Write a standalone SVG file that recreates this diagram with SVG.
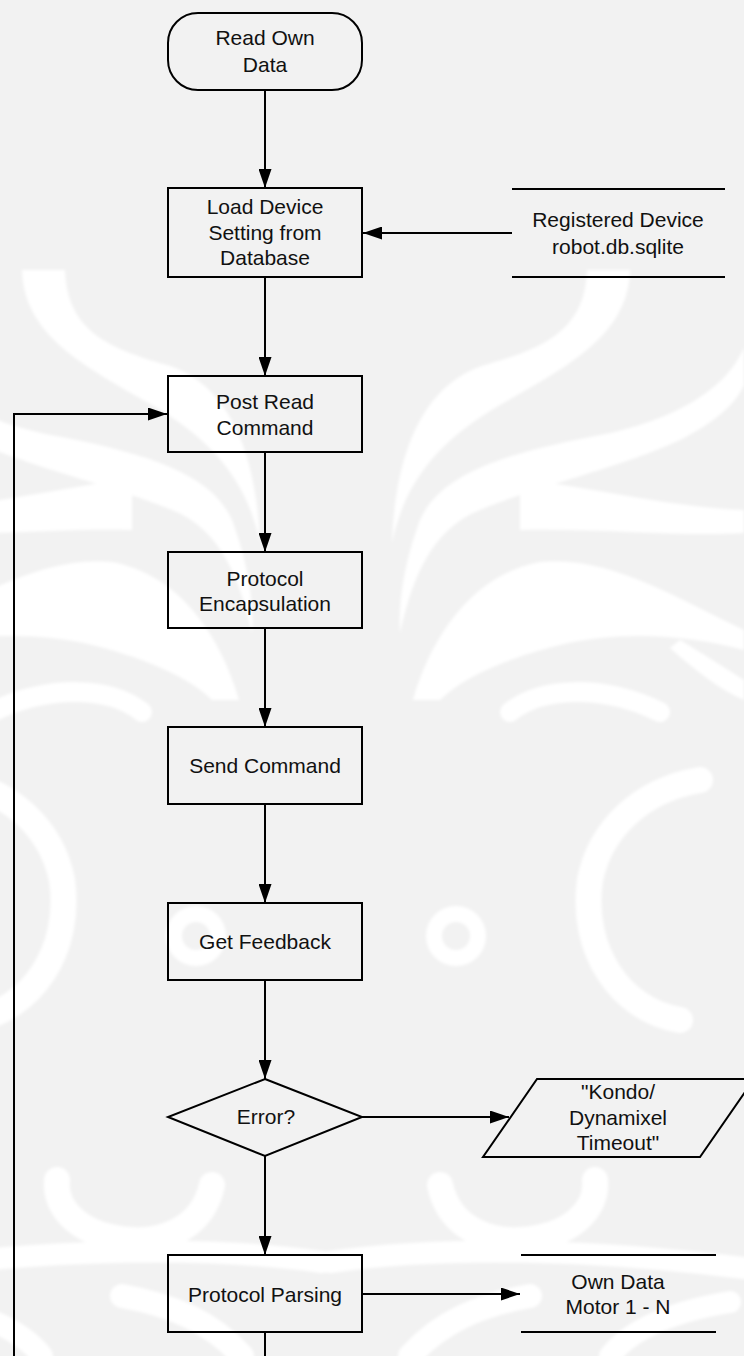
<svg xmlns="http://www.w3.org/2000/svg" width="744" height="1356" viewBox="0 0 744 1356">
  <defs>
    <style>
      .shape { fill: none; stroke: #000; stroke-width: 2; }
      .store { fill: none; stroke: #000; stroke-width: 2; }
      .wire { fill: none; stroke: #000; stroke-width: 2; }
      .label { font-family: "Liberation Sans", Arial, sans-serif; font-size: 21px; fill: #111; text-anchor: middle; }
      .wm { fill: #ffffff; }
      .wms { fill: none; stroke: #ffffff; stroke-linecap: round; }
    </style>
    <marker id="ah" viewBox="0 0 19 13" refX="19" refY="6.5" markerWidth="19" markerHeight="13" markerUnits="userSpaceOnUse" orient="auto">
      <path d="M0,0 L19,6.5 L0,13 z" fill="#000"/>
    </marker>
    <filter id="soft" x="-5%" y="-5%" width="110%" height="110%">
      <feGaussianBlur stdDeviation="1.6"/>
    </filter>
    <!-- one half of the background emblem; mirrored about x=326 for the other half -->
    <g id="emblem-half">
      <path class="wm" d="M587,270 C585,330 545,348 485,365 C430,382 396,440 392,543 C405,480 440,440 500,405 C570,365 628,335 630,270 Z"/>
      <path class="wm" d="M744,347 C725,395 660,425 590,437 C500,455 440,475 420,520 C405,560 398,600 400,633 C412,580 430,530 480,510 C540,485 620,468 680,440 C715,422 735,405 744,385 Z"/>
      <path class="wm" d="M520,478 C600,490 680,508 744,510 L744,533 C680,537 600,528 520,530 Z"/>
      <path class="wm" d="M413,700 C430,640 470,575 540,562 C610,555 680,600 744,630 L744,650 C690,635 620,630 560,645 C500,660 460,680 440,700 Z"/>
      <path class="wm" d="M680,640 C705,655 725,668 744,680 L744,700 C720,690 695,670 670,648 Z"/>
      <path class="wms" stroke-width="20" d="M510,712 C540,688 600,683 660,712"/>
      <path class="wms" stroke-width="26" d="M700,780 C640,790 600,830 590,880 C580,950 620,1010 680,1020"/>
      <circle class="wms" stroke-width="16" cx="456" cy="936" r="22"/>
      <path class="wms" stroke-width="26" d="M440,1185 C450,1232 495,1242 520,1240 C570,1237 598,1210 595,1180"/>
      <path class="wms" stroke-width="22" d="M330,1262 C450,1245 600,1250 744,1268"/>
      <path class="wms" stroke-width="24" d="M410,1356 C440,1322 480,1305 530,1296"/>
      <path class="wms" stroke-width="22" d="M610,1356 C630,1330 670,1312 730,1302"/>
    </g>
  </defs>

  <!-- page ground and emblem -->
  <rect x="0" y="0" width="744" height="1356" fill="#f2f2f2"/>
  <g id="emblem" filter="url(#soft)">
    <use href="#emblem-half"/>
    <use href="#emblem-half" transform="matrix(-1,0,0,1,652,0)"/>
  </g>

  <!-- connectors -->
  <g id="connectors">
    <line class="wire" x1="265" y1="90" x2="265" y2="188" marker-end="url(#ah)"/>
    <line class="wire" x1="512" y1="233" x2="363" y2="233" marker-end="url(#ah)"/>
    <line class="wire" x1="265" y1="277" x2="265" y2="376" marker-end="url(#ah)"/>
    <line class="wire" x1="265" y1="452" x2="265" y2="552" marker-end="url(#ah)"/>
    <line class="wire" x1="265" y1="628" x2="265" y2="727" marker-end="url(#ah)"/>
    <line class="wire" x1="265" y1="804" x2="265" y2="903" marker-end="url(#ah)"/>
    <line class="wire" x1="265" y1="980" x2="265" y2="1079" marker-end="url(#ah)"/>
    <line class="wire" x1="362" y1="1117" x2="509" y2="1117" marker-end="url(#ah)"/>
    <line class="wire" x1="265" y1="1156" x2="265" y2="1255" marker-end="url(#ah)"/>
    <line class="wire" x1="362" y1="1294" x2="520" y2="1294" marker-end="url(#ah)"/>
    <line class="wire" x1="265" y1="1332" x2="265" y2="1356"/>
    <polyline class="wire" points="14,1356 14,414 167,414" marker-end="url(#ah)"/>
  </g>

  <!-- nodes -->
  <g id="n-start">
    <rect class="shape" x="168" y="13" width="194" height="77" rx="30" ry="30"/>
    <text class="label" x="265" y="45">Read Own</text>
    <text class="label" x="265" y="72">Data</text>
  </g>

  <g id="n-load">
    <rect class="shape" x="168" y="188" width="194" height="89"/>
    <text class="label" x="265" y="214">Load Device</text>
    <text class="label" x="265" y="240">Setting from</text>
    <text class="label" x="265" y="265">Database</text>
  </g>

  <g id="n-registry">
    <line class="store" x1="512" y1="189" x2="725" y2="189"/>
    <line class="store" x1="512" y1="277" x2="725" y2="277"/>
    <text class="label" x="618" y="227">Registered Device</text>
    <text class="label" x="618" y="254">robot.db.sqlite</text>
  </g>

  <g id="n-post">
    <rect class="shape" x="168" y="376" width="194" height="76"/>
    <text class="label" x="265" y="409">Post Read</text>
    <text class="label" x="265" y="435">Command</text>
  </g>

  <g id="n-encap">
    <rect class="shape" x="168" y="552" width="194" height="76"/>
    <text class="label" x="265" y="586">Protocol</text>
    <text class="label" x="265" y="611">Encapsulation</text>
  </g>

  <g id="n-send">
    <rect class="shape" x="168" y="727" width="194" height="77"/>
    <text class="label" x="265" y="773">Send Command</text>
  </g>

  <g id="n-feedback">
    <rect class="shape" x="168" y="903" width="194" height="77"/>
    <text class="label" x="265" y="949">Get Feedback</text>
  </g>

  <g id="n-error">
    <polygon class="shape" points="265,1079 362,1117 265,1156 168,1117"/>
    <text class="label" x="266" y="1124">Error?</text>
  </g>

  <g id="n-timeout">
    <polygon class="shape" points="537,1079 754,1079 700,1157 483,1157"/>
    <text class="label" x="618" y="1099">"Kondo/</text>
    <text class="label" x="618" y="1125">Dynamixel</text>
    <text class="label" x="618" y="1150">Timeout"</text>
  </g>

  <g id="n-parse">
    <rect class="shape" x="168" y="1255" width="194" height="77"/>
    <text class="label" x="265" y="1302">Protocol Parsing</text>
  </g>

  <g id="n-owndata">
    <line class="store" x1="521" y1="1255" x2="716" y2="1255"/>
    <line class="store" x1="521" y1="1332" x2="716" y2="1332"/>
    <text class="label" x="618" y="1289">Own Data</text>
    <text class="label" x="618" y="1314">Motor 1 - N</text>
  </g>
</svg>
